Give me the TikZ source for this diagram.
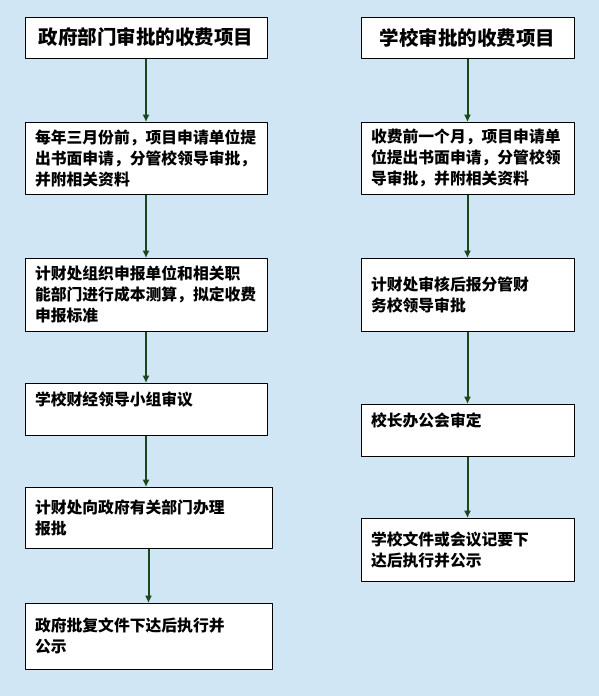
\documentclass[tikz,border=0pt]{standalone}
\usepackage{fontspec}
\newfontfamily\cjk{Noto Sans CJK SC}
\usetikzlibrary{arrows.meta}
\definecolor{bgblue}{RGB}{208,230,244}
\definecolor{arrgreen}{RGB}{26,72,26}

\begin{document}
\begin{tikzpicture}[
		x=1pt, y=-1pt,
		line join=round,
		>={Triangle[length=7pt,width=6pt]},
		box/.style={draw=black, fill=white, line width=1pt, inner xsep=10pt,
			inner ysep=0pt, align=left, text width=#1,
			font=\cjk\bfseries\fontsize{15.8}{21}\selectfont},
		titlebox/.style={box=#1, align=center, font=\cjk\bfseries\fontsize{19.5}{24}\selectfont},
		flow/.style={->, arrgreen, line width=2pt}
		]
		
		\useasboundingbox (0,0) rectangle (599,696);
		\fill[bgblue] (0,0) rectangle (599,696);
		
		% left column: government approved items
		\node[titlebox=222pt, minimum height=41pt] (L1) at (146,37.5)
		{政府部门审批的收费项目};
		\node[box=222pt, minimum height=72pt] (L2) at (146,158)
		{每年三月份前，项目申请单位提\\出书面申请，分管校领导审批，\\并附相关资料};
		\node[box=222pt, minimum height=73pt] (L3) at (146,294.5)
		{计财处组织申报单位和相关职\\能部门进行成本测算，拟定收费\\申报标准};
		\node[box=222pt, minimum height=52pt] (L4) at (146,409)
		{学校财经领导小组审议\\\mbox{}};
		\node[box=227pt, minimum height=61pt] (L5) at (148.5,517.5)
		{计财处向政府有关部门办理\\报批};
		\node[box=227pt, minimum height=66pt] (L6) at (148.5,636)
		{政府批复文件下达后执行并\\公示};
		
		% right column: school approved items
		\node[titlebox=193pt, minimum height=41pt] (R1) at (467.5,37.5)
		{学校审批的收费项目};
		\node[box=193pt, minimum height=72pt] (R2) at (467.5,158)
		{收费前一个月，项目申请单\\位提出书面申请，分管校领\\导审批，并附相关资料};
		\node[box=193pt, minimum height=73pt] (R3) at (467.5,294.5)
		{计财处审核后报分管财\\务校领导审批};
		\node[box=193pt, minimum height=52pt] (R4) at (467.5,430)
		{校长办公会审定\\\mbox{}};
		\node[box=193pt, minimum height=63pt] (R5) at (467.5,549.5)
		{学校文件或会议记要下\\达后执行并公示};
		
		\draw[flow] (L1) -- (L2);
		\draw[flow] (L2) -- (L3);
		\draw[flow] (L3) -- (L4);
		\draw[flow] (L4.south) -- (L4.south |- L5.north);
		\draw[flow] (L5) -- (L6);
		
		\draw[flow] (R1) -- (R2);
		\draw[flow] (R2) -- (R3);
		\draw[flow] (R3) -- (R4);
		\draw[flow] (R4) -- (R5);
		
	\end{tikzpicture}
\end{document}
